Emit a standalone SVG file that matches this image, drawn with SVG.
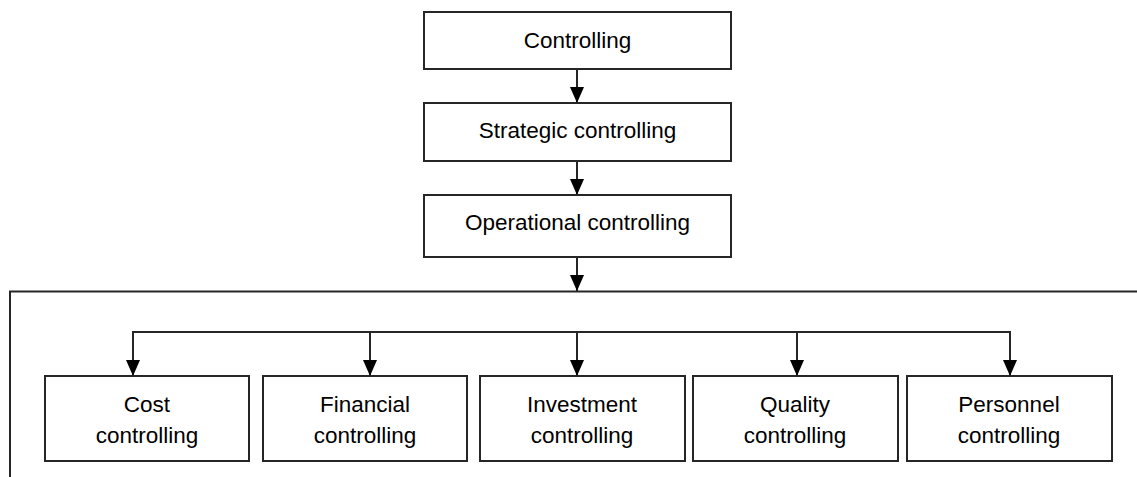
<svg xmlns="http://www.w3.org/2000/svg" width="1137" height="477" viewBox="0 0 1137 477">
<style>
.box{fill:#fff;stroke:#262626;stroke-width:2}
.ln{fill:none;stroke:#262626;stroke-width:2}
text{font-family:"Liberation Sans",Arial,sans-serif;font-size:22.5px;fill:#000;text-anchor:middle}
</style>
<defs>
<marker id="ah" markerWidth="16" markerHeight="14" refX="16" refY="7" orient="auto" markerUnits="userSpaceOnUse" viewBox="0 0 16 14">
<path d="M0,0 L16,7 L0,14 Z" fill="#000"/>
</marker>
</defs>
<rect width="1137" height="477" fill="#fff"/>
<g id="connectors">
<line class="ln" x1="577" y1="69" x2="577" y2="103" marker-end="url(#ah)"/>
<line class="ln" x1="577" y1="161" x2="577" y2="195" marker-end="url(#ah)"/>
<line class="ln" x1="577" y1="257" x2="577" y2="291" marker-end="url(#ah)"/>
<polyline class="ln" points="10,477 10,291.5 1137,291.5"/>
<line class="ln" x1="133" y1="332" x2="1011" y2="332"/>
<line class="ln" x1="133" y1="331" x2="133" y2="376" marker-end="url(#ah)"/>
<line class="ln" x1="370" y1="332" x2="370" y2="376" marker-end="url(#ah)"/>
<line class="ln" x1="577" y1="332" x2="577" y2="376" marker-end="url(#ah)"/>
<line class="ln" x1="797" y1="332" x2="797" y2="376" marker-end="url(#ah)"/>
<line class="ln" x1="1010" y1="331" x2="1010" y2="376" marker-end="url(#ah)"/>
</g>
<g id="controlling">
<rect class="box" x="424" y="12" width="307" height="57"/>
<text x="577.5" y="48">Controlling</text>
</g>
<g id="strategic">
<rect class="box" x="424" y="103" width="307" height="58"/>
<text x="577.5" y="138">Strategic controlling</text>
</g>
<g id="operational">
<rect class="box" x="424" y="195" width="307" height="62"/>
<text x="577.5" y="230">Operational controlling</text>
</g>
<g id="cost">
<rect class="box" x="45" y="376" width="204" height="85"/>
<text x="147" y="412">Cost</text>
<text x="147" y="443">controlling</text>
</g>
<g id="financial">
<rect class="box" x="263" y="376" width="204" height="85"/>
<text x="365" y="412">Financial</text>
<text x="365" y="443">controlling</text>
</g>
<g id="investment">
<rect class="box" x="480" y="376" width="205" height="85"/>
<text x="582" y="412">Investment</text>
<text x="582" y="443">controlling</text>
</g>
<g id="quality">
<rect class="box" x="693" y="376" width="205" height="85"/>
<text x="795" y="412">Quality</text>
<text x="795" y="443">controlling</text>
</g>
<g id="personnel">
<rect class="box" x="907" y="376" width="205" height="85"/>
<text x="1009" y="412">Personnel</text>
<text x="1009" y="443">controlling</text>
</g>
</svg>
